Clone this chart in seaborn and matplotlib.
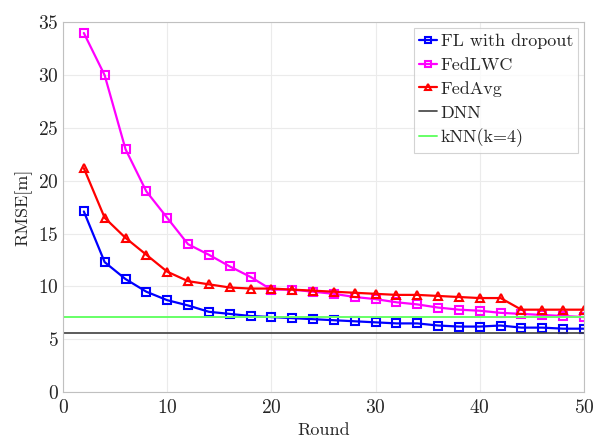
import matplotlib
matplotlib.use("Agg")
import matplotlib.pyplot as plt
import seaborn as sns
import numpy as np
import pandas as pd

rounds = [2, 4, 6, 8, 10, 12, 14, 16, 18, 20, 22, 24, 26, 28, 30, 32, 34, 36, 38, 40, 42, 44, 46, 48, 50]
fl_dropout = [17.1, 12.3, 10.7, 9.5, 8.7, 8.2, 7.6, 7.4, 7.2, 7.1, 7.0, 6.9, 6.8, 6.7, 6.6, 6.5, 6.5, 6.3, 6.2, 6.2, 6.3, 6.1, 6.1, 6.0, 6.0]
fedlwc = [34.0, 30.0, 23.0, 19.0, 16.5, 14.0, 13.0, 11.9, 10.9, 9.7, 9.7, 9.5, 9.3, 9.0, 8.8, 8.5, 8.3, 8.0, 7.8, 7.7, 7.5, 7.4, 7.3, 7.2, 7.1]
fedavg = [21.2, 16.5, 14.6, 13.0, 11.4, 10.5, 10.2, 9.9, 9.8, 9.8, 9.7, 9.6, 9.5, 9.4, 9.3, 9.2, 9.2, 9.1, 9.0, 8.9, 8.9, 7.8, 7.8, 7.8, 7.8]
dnn_level = 5.6
knn_level = 7.1
x_range = [0, 50]

sns.set_theme(style="whitegrid")
plt.rcParams['font.family'] = 'serif'
plt.rcParams['font.serif'] = ['cmr10']
plt.rcParams['mathtext.fontset'] = 'cm'
plt.rcParams['axes.formatter.use_mathtext'] = True

fig = plt.figure(figsize=(5.96, 4.40), dpi=100)
ax = fig.add_axes([0.1057, 0.109, 0.874, 0.84])

df = pd.DataFrame({"Round": rounds, "FL": fl_dropout, "LWC": fedlwc, "AVG": fedavg})

sns.lineplot(data=df, x="Round", y="FL", ax=ax, color="#0000ff", marker="s", markersize=5.2,
             markerfacecolor="none", markeredgecolor="#0000ff", markeredgewidth=1.5, linewidth=1.6,
             label="FL with dropout")
sns.lineplot(data=df, x="Round", y="LWC", ax=ax, color="#ff00ff", marker="s", markersize=5.2,
             markerfacecolor="none", markeredgecolor="#ff00ff", markeredgewidth=1.5, linewidth=1.6,
             label="FedLWC")
sns.lineplot(data=df, x="Round", y="AVG", ax=ax, color="#ff0000", marker="^", markersize=6.2,
             markerfacecolor="none", markeredgecolor="#ff0000", markeredgewidth=1.5, linewidth=1.6,
             label="FedAvg")
ref = pd.DataFrame({"x": x_range, "dnn": [dnn_level] * 2, "knn": [knn_level] * 2})
sns.lineplot(data=ref, x="x", y="dnn", ax=ax, color="#404040", linewidth=1.2, label="DNN")
sns.lineplot(data=ref, x="x", y="knn", ax=ax, color="#66ff66", linewidth=1.4, label="kNN(k=4)")

ax.set_xlim(0, 50)
ax.set_ylim(0, 35)
ax.set_xticks([0, 10, 20, 30, 40, 50])
ax.set_yticks([0, 5, 10, 15, 20, 25, 30, 35])
ax.set_xlabel("Round", fontsize=13, labelpad=4)
ax.set_ylabel("RMSE[m]", fontsize=13, labelpad=4)
ax.tick_params(axis="both", labelsize=14, direction="in", length=4, color="#bbbbbb", pad=3)
ax.tick_params(axis="x", pad=5)
ax.grid(True, color="#ebebeb", linewidth=0.8)
for s in ax.spines.values():
    s.set_color("#c0c0c0")
    s.set_linewidth(0.8)

leg = ax.legend(loc="upper right", fontsize=13, frameon=True, fancybox=False, borderpad=0.3,
                handlelength=1.0, handletextpad=0.2, labelspacing=0.45, borderaxespad=0.3)
leg.get_frame().set_edgecolor("#c8c8c8")
leg.get_frame().set_linewidth(0.8)
for h in leg.legend_handles:
    h.set_markersize(4)

fig.savefig("out.png", dpi=100)
